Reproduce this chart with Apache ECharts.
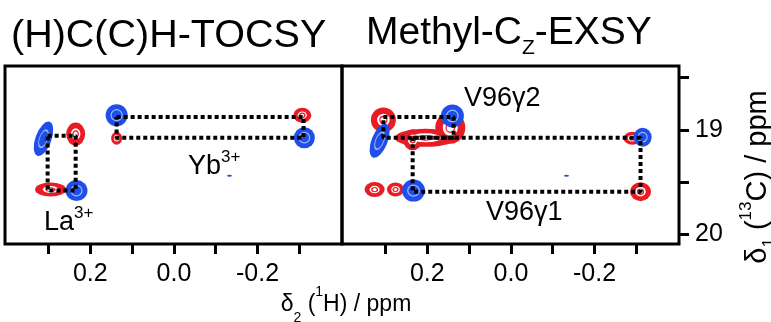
<!DOCTYPE html>
<html>
<head>
<meta charset="utf-8">
<script src="https://cdn.jsdelivr.net/npm/echarts@6/dist/echarts.min.js"></script>
<style>
  html, body { margin: 0; padding: 0; background: #fff; }
  #chart { width: 771px; height: 322px; }
</style>
</head>
<body>
<div id="chart"></div>
<script>
// axis ticks / labels (ppm)
const hTicks = [0.3, 0.2, 0.1, 0, -0.1, -0.2, -0.3]
const hLabels = [0.2, 0, -0.2]
const cTicks = [18.5, 19, 19.5, 20]
const cLabels = [19, 20]

// (H)C(C)H-TOCSY panel: positive (blue) and negative (red) peaks
const tocsyPosH = [0.312, 0.233, 0.137, -0.312, -0.133]
const tocsyPosC = [19.085, 19.58, 18.86, 19.075, 19.437]
const tocsyNegH = [0.235, 0.295, 0.137, -0.307]
const tocsyNegC = [19.04, 19.57, 19.08, 18.86]
// connectivity boxes [h1, h2] x [c1, c2]
const tocsyRectH = [[0.302, 0.235], [0.137, -0.31]]
const tocsyRectC = [[19.057, 19.58], [18.877, 19.076]]

// Methyl-Cz-EXSY panel
const exsyPosH = [0.140, 0.314, 0.233, -0.315, -0.133]
const exsyPosC = [18.867, 19.104, 19.58, 19.07, 19.437]
const exsyNegH = [0.305, 0.204, 0.145, 0.235, 0.326, 0.276, -0.31, -0.29]
const exsyNegC = [18.905, 19.076, 18.98, 19.095, 19.57, 19.57, 19.59, 19.08]
const exsyRectH = [[0.305, 0.137], [0.235, -0.31]]
const exsyRectC = [[18.877, 19.076], [19.076, 19.59]]

// peak shapes in px: [w, h, rotate]
const tocsyPosShape = [[16, 36, -20], [22, 21, 0], [22, 22, 0], [21, 21, 0], [5, 2, 0]]
const tocsyNegShape = [[19, 23, 0], [31, 14, 0], [11, 13, 0], [18, 15, 0]]
const exsyPosShape = [[23, 23, 0], [16, 36, -22], [23, 22, 0], [18, 19, 0], [5, 2, 0]]
const exsyNegShape = [[25, 25, 0], [62, 18, 0], [30, 32, 0], [19, 21, 0], [20, 15, 0], [17, 14, 0], [21, 19, 0], [17, 13, 0]]

const FONT = "'Liberation Sans', Arial, sans-serif"
const BLUE = '#1f4ee8'
const RED = '#e81c24'

const chart = echarts.init(document.getElementById('chart'), null, { renderer: 'canvas' })

function peakData(hs, cs, shapes, scale, minSize) {
  return hs.map((h, i) => {
    const s = shapes[i]
    const w = s[0] * scale, hh = s[1] * scale
    if (minSize && (w < minSize || hh < minSize)) return null
    return { value: [h, cs[i]], symbolSize: [w, hh], symbolRotate: s[2] }
  }).filter(d => d)
}

function rectLine(h, c) {
  return [[h[0], c[0]], [h[1], c[0]], [h[1], c[1]], [h[0], c[1]], [h[0], c[0]]]
}

function panelSeries(idx, posH, posC, posShape, negH, negC, negShape, rectH, rectC) {
  const base = { type: 'scatter', xAxisIndex: idx, yAxisIndex: idx, symbol: 'circle', silent: true, animation: false }
  const list = [
    // red contours: outer, white gap, inner ring
    { ...base, z: 2, data: peakData(negH, negC, negShape, 1), itemStyle: { color: RED, opacity: 1 } },
    { ...base, z: 3, data: peakData(negH, negC, negShape, 0.5, 4), itemStyle: { color: '#fff', opacity: 1 } },
    { ...base, z: 4, data: peakData(negH, negC, negShape, 0.28, 3),
      itemStyle: { color: 'rgba(0,0,0,0)', borderColor: RED, borderWidth: 1.2, opacity: 1 } },
    // blue contours
    { ...base, z: 5, data: peakData(posH, posC, posShape, 1), itemStyle: { color: BLUE, opacity: 1 } },
    { ...base, z: 6, data: peakData(posH, posC, posShape, 0.5, 4),
      itemStyle: { color: 'rgba(0,0,0,0)', borderColor: '#9fb6ff', borderWidth: 1.2, opacity: 1 } }
  ]
  rectH.forEach((h, i) => {
    list.push({
      type: 'line', xAxisIndex: idx, yAxisIndex: idx, z: 10, silent: true, animation: false,
      symbol: 'none', data: rectLine(h, rectC[i]),
      lineStyle: { color: '#000', width: 4, type: [4, 3], cap: 'butt' }
    })
  })
  return list
}

const xAxisCommon = {
  type: 'value', inverse: true, min: -0.402, max: 0.404,
  axisLine: { show: false, onZero: false },
  axisTick: { show: true, length: 10, inside: false, customValues: hTicks, lineStyle: { color: '#000', width: 3 } },
  axisLabel: { customValues: hLabels, margin: 18, color: '#000', fontFamily: FONT, fontSize: 25,
    formatter: v => v.toFixed(1) },
  splitLine: { show: false }
}

const yAxisCommon = {
  type: 'value', inverse: true, min: 18.39, max: 20.09,
  axisLine: { show: false, onZero: false }, splitLine: { show: false }
}

const option = {
  backgroundColor: '#fff',
  animation: false,
  grid: [
    { left: 5, top: 66, width: 337, height: 178, show: true, borderColor: '#000', borderWidth: 3, backgroundColor: 'rgba(0,0,0,0)' },
    { left: 342, top: 66, width: 337, height: 178, show: true, borderColor: '#000', borderWidth: 3, backgroundColor: 'rgba(0,0,0,0)' }
  ],
  xAxis: [
    { ...xAxisCommon, gridIndex: 0 },
    { ...xAxisCommon, gridIndex: 1 }
  ],
  yAxis: [
    { ...yAxisCommon, gridIndex: 0, axisTick: { show: false }, axisLabel: { show: false } },
    { ...yAxisCommon, gridIndex: 1, position: 'right',
      axisTick: { show: true, length: 10, customValues: cTicks, lineStyle: { color: '#000', width: 3 } },
      axisLabel: { customValues: cLabels, margin: 16, color: '#000', fontFamily: FONT, fontSize: 25,
        formatter: v => String(v) } }
  ],
  series: [
    ...panelSeries(0, tocsyPosH, tocsyPosC, tocsyPosShape, tocsyNegH, tocsyNegC, tocsyNegShape, tocsyRectH, tocsyRectC),
    ...panelSeries(1, exsyPosH, exsyPosC, exsyPosShape, exsyNegH, exsyNegC, exsyNegShape, exsyRectH, exsyRectC)
  ],
  graphic: [
    { type: 'text', left: 11, top: 16, z: 20, style: { text: '(H)C(C)H-TOCSY', font: '39.5px ' + FONT, fill: '#000' } },
    { type: 'text', x: 366, y: 7, z: 20, style: {
      text: '{b|Methyl-C}{s|Z}{b|-EXSY}', verticalAlign: 'top', fill: '#000',
      rich: { b: { fontSize: 39, fontFamily: FONT, lineHeight: 52, fill: '#000' },
              s: { fontSize: 21, fontFamily: FONT, lineHeight: 21, verticalAlign: 'bottom', fill: '#000' } } } },
    { type: 'text', x: 188, y: 149, z: 20, style: {
      text: '{b|Yb}{s|3+}', verticalAlign: 'top',
      rich: { b: { fontSize: 27, fontFamily: FONT, lineHeight: 36 },
              s: { fontSize: 17, fontFamily: FONT, lineHeight: 16, verticalAlign: 'top' } } } },
    { type: 'text', x: 44, y: 205, z: 20, style: {
      text: '{b|La}{s|3+}', verticalAlign: 'top',
      rich: { b: { fontSize: 27, fontFamily: FONT, lineHeight: 36 },
              s: { fontSize: 17, fontFamily: FONT, lineHeight: 16, verticalAlign: 'top' } } } },
    { type: 'text', x: 464, y: 99, z: 20, style: { text: 'V96\u03b32', font: '27px ' + FONT, verticalAlign: 'middle', fill: '#000' } },
    { type: 'text', x: 486, y: 213, z: 20, style: { text: 'V96\u03b31', font: '27px ' + FONT, verticalAlign: 'middle', fill: '#000' } },
    { type: 'text', x: 346, y: 285, z: 20, style: {
      text: '{b|\u03b4}{d|2}{b| (}{u|1}{b|H) / ppm}', align: 'center', verticalAlign: 'top',
      rich: { b: { fontSize: 23, fontFamily: FONT, lineHeight: 40 },
              u: { fontSize: 14, fontFamily: FONT, lineHeight: 20, verticalAlign: 'top' },
              d: { fontSize: 14, fontFamily: FONT, lineHeight: 24, verticalAlign: 'bottom' } } } },
    { type: 'text', x: 738, y: 177, rotation: Math.PI / 2, z: 20, style: {
      text: '{b|\u03b4}{d|1}{b| (}{u|13}{b|C) / ppm}', align: 'center', verticalAlign: 'top',
      rich: { b: { fontSize: 29, fontFamily: FONT, lineHeight: 40 },
              u: { fontSize: 17, fontFamily: FONT, lineHeight: 22, verticalAlign: 'top' },
              d: { fontSize: 17, fontFamily: FONT, lineHeight: 26, verticalAlign: 'bottom' } } } }
  ]
}

chart.setOption(option)
</script>
</body>
</html>
